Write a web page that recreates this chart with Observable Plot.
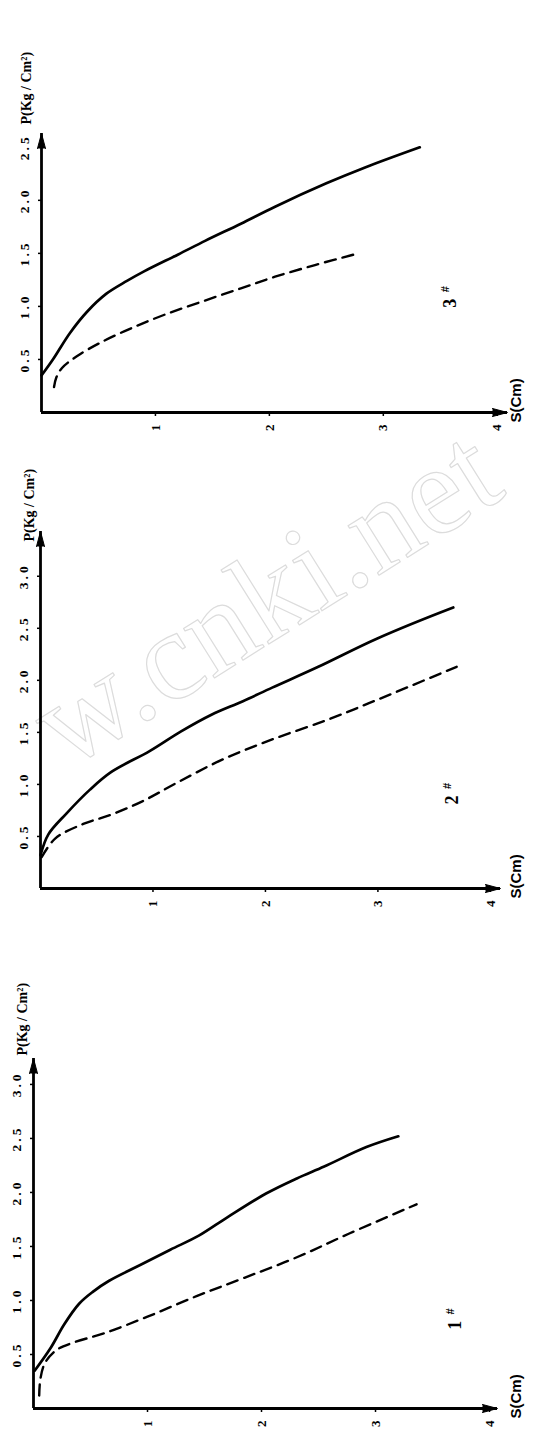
<!DOCTYPE html>
<html>
<head>
<meta charset="utf-8">
<script src="https://cdn.jsdelivr.net/npm/d3@7"></script>
<script src="https://cdn.jsdelivr.net/npm/@observablehq/plot@0.6"></script>
<style>
  html, body { margin: 0; padding: 0; background: #fff; }
  #wrap { position: relative; width: 543px; height: 1429px; overflow: hidden; background: #fff; }
  .layer { position: absolute; left: 0; }
</style>
</head>
<body>
<div id="wrap"></div>
<script>
// ---------------- data ----------------
// Panel 3# (top)
const S3_solid = [0, 0.1, 0.25, 0.4, 0.57, 0.75, 0.9, 1.2, 1.44, 1.75, 2.05, 2.5, 2.84, 3.32];
const P3_solid = [0.35, 0.5, 0.75, 0.95, 1.12, 1.24, 1.33, 1.49, 1.62, 1.78, 1.94, 2.16, 2.31, 2.5];
const S3_dash  = [0.11, 0.13, 0.18, 0.31, 0.52, 0.8, 1.1, 1.42, 1.75, 2.05, 2.4, 2.78];
const P3_dash  = [0.24, 0.33, 0.42, 0.53, 0.66, 0.8, 0.93, 1.05, 1.17, 1.28, 1.39, 1.5];
// Panel 2# (middle)
const S2_solid = [0, 0.07, 0.23, 0.44, 0.63, 0.97, 1.25, 1.52, 1.8, 2.06, 2.47, 2.99, 3.67];
const P2_solid = [0.32, 0.52, 0.72, 0.95, 1.12, 1.32, 1.51, 1.67, 1.8, 1.93, 2.13, 2.4, 2.7];
const S2_dash  = [0.01, 0.13, 0.38, 0.63, 0.91, 1.22, 1.62, 2.08, 2.55, 2.92, 3.3, 3.7];
const P2_dash  = [0.3, 0.48, 0.62, 0.71, 0.84, 1.02, 1.24, 1.44, 1.62, 1.78, 1.95, 2.13];
// Panel 1# (bottom)
const S1_solid = [0.01, 0.15, 0.27, 0.4, 0.52, 0.66, 0.94, 1.2, 1.45, 1.7, 2.04, 2.31, 2.55, 2.92, 3.2];
const P1_solid = [0.35, 0.56, 0.78, 0.97, 1.08, 1.18, 1.33, 1.47, 1.6, 1.77, 1.99, 2.13, 2.24, 2.42, 2.52];
const S1_dash  = [0.05, 0.06, 0.1, 0.2, 0.35, 0.63, 1.0, 1.43, 1.85, 2.31, 2.77, 3.36];
const P1_dash  = [0.12, 0.27, 0.42, 0.54, 0.61, 0.7, 0.85, 1.04, 1.21, 1.4, 1.62, 1.89];

// tick values and labels
const pTicksTop = [0.5, 1.0, 1.5, 2.0, 2.5];
const pTicksOther = [0.5, 1.0, 1.5, 2.0, 2.5, 3.0];
const sTicks = [1, 2, 3, 4];
const pLabel = "P(Kg / Cm²)";
const sLabel = "S(Cm)";
const tagNames = ["3", "2", "1"];
const tagS = [3.59, 3.66, 3.70];
const tagP = [1.03, 0.85, 0.77];
const watermark = "w.cnki.net";   // visible part of the scan's watermark

// ---------------- layout (pixels, styles) ----------------
const layout = [
  {top: 0,   height: 442, ml: 41, mr: 36, mt: 133, mb: 30, sMax: 4.09, pMax: 2.63, pdx: -20, pdy: -9,  sdx: 13},
  {top: 442, height: 476, ml: 40, mr: 43, mt: 89,  mb: 30, sMax: 4.09, pMax: 3.43, pdx: -16, pdy: 10,  sdx: 20},
  {top: 918, height: 511, ml: 33, mr: 46, mt: 140, mb: 21, sMax: 4.07, pMax: 3.24, pdx: -16, pdy: -3,  sdx: 23}
];

const series = [
  {solidS: S3_solid, solidP: P3_solid, dashS: S3_dash, dashP: P3_dash, pTicks: pTicksTop},
  {solidS: S2_solid, solidP: P2_solid, dashS: S2_dash, dashP: P2_dash, pTicks: pTicksOther},
  {solidS: S1_solid, solidP: P1_solid, dashS: S1_dash, dashP: P1_dash, pTicks: pTicksOther}
];

const serif = "'Liberation Serif', 'DejaVu Serif', serif";
const sans = "'Liberation Sans', Arial, sans-serif";
const wrap = document.getElementById("wrap");

// faint scanned-page watermark, underneath everything
const wm = Plot.plot({
  width: 543, height: 1429, margin: 0,
  style: {background: "transparent", overflow: "visible"},
  marks: [
    Plot.text([watermark], {text: v => v, frameAnchor: "top-left", dx: 66, dy: 770, rotate: -32,
      textAnchor: "start", lineAnchor: "bottom", fontSize: 127, fontFamily: serif,
      fill: "none", stroke: "#dcdcdc", strokeWidth: 1.2})
  ]
});
const wmDiv = document.createElement("div");
wmDiv.className = "layer";
wmDiv.style.top = "0px";
wmDiv.appendChild(wm);
wrap.appendChild(wmDiv);

series.forEach((d, i) => {
  const L = layout[i];
  const solid = d.solidS.map((s, j) => ({s, p: d.solidP[j]}));
  const dash = d.dashS.map((s, j) => ({s, p: d.dashP[j]}));
  const tag = [{s: tagS[i], p: tagP[i], t: tagNames[i]}];

  const chart = Plot.plot({
    width: 543,
    height: L.height,
    marginLeft: L.ml, marginRight: L.mr, marginTop: L.mt, marginBottom: L.mb,
    style: {background: "transparent", fontFamily: serif, color: "black", overflow: "visible"},
    x: {domain: [0, L.sMax]},
    y: {domain: [0, L.pMax]},
    marks: [
      Plot.ruleX([0], {stroke: "black", strokeWidth: 2.8}),
      Plot.ruleY([0], {stroke: "black", strokeWidth: 2.8}),
      Plot.vector([{s: 0, p: L.pMax}], {x: "s", y: "p", anchor: "end", shape: "spike", length: 15, r: 4, rotate: 0, fill: "black", stroke: "black", strokeWidth: 1}),
      Plot.vector([{s: L.sMax, p: 0}], {x: "s", y: "p", anchor: "end", shape: "spike", length: 15, r: 4, rotate: 90, fill: "black", stroke: "black", strokeWidth: 1}),
      Plot.axisY({ticks: d.pTicks, tickSize: 3, tickPadding: 10, tickRotate: -90, tickFormat: v => v.toFixed(1),
        fontSize: 13.5, fontWeight: "bold", fontFamily: serif, label: null, strokeWidth: 1.5}),
      Plot.axisX({ticks: sTicks, tickSize: 4, tickPadding: 8, tickRotate: -90, tickFormat: v => String(v),
        fontSize: 13, fontWeight: "bold", fontFamily: serif, label: null, strokeWidth: 1.5}),
      Plot.line(solid, {x: "s", y: "p", curve: "catmull-rom", stroke: "black", strokeWidth: 2.7}),
      Plot.line(dash, {x: "s", y: "p", curve: "catmull-rom", stroke: "black", strokeWidth: 2.4, strokeDasharray: "11,7"}),
      Plot.text([pLabel], {text: v => v, frameAnchor: "top-left", dx: L.pdx, dy: L.pdy, rotate: -90, textAnchor: "start",
        fontSize: 14, fontWeight: "bold", fontFamily: serif, ariaLabel: "p-label"}),
      Plot.text([sLabel], {text: v => v, frameAnchor: "bottom-right", dx: L.sdx, dy: 10, rotate: -90, textAnchor: "start",
        fontSize: 15, fontWeight: "bold", fontFamily: sans, ariaLabel: "s-label"}),
      Plot.text(tag, {x: "s", y: "p", text: "t", rotate: -90, fontSize: 18, fontWeight: "bold", fontFamily: serif}),
      Plot.text(tag, {x: "s", y: "p", text: () => "#", dx: -5, dy: -14, rotate: -90, fontSize: 11, fontWeight: "bold", fontFamily: sans})
    ]
  });

  const svg = d3.select(chart);
  svg.selectAll('g[aria-label="y-axis tick label"] text').attr("letter-spacing", 3);
  svg.selectAll('g[aria-label="p-label"] text').attr("letter-spacing", 4);
  svg.selectAll('g[aria-label="s-label"] text').attr("letter-spacing", 5);

  const div = document.createElement("div");
  div.className = "layer";
  div.style.top = L.top + "px";
  div.appendChild(chart);
  wrap.appendChild(div);
});
</script>
</body>
</html>
